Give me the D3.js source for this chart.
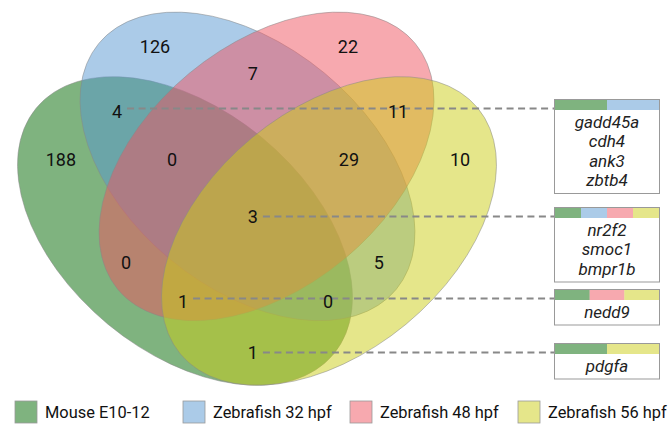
<!DOCTYPE html>
<html>
<head>
<meta charset="utf-8">
<script src="https://cdn.jsdelivr.net/npm/d3@7"></script>
<style>
  body { margin: 0; background: #fff; }
  svg { display: block; font-family: Roboto, "Noto Sans", sans-serif; }
  .count { font-size: 18px; fill: #111; }
  .gene { font-size: 17px; font-style: italic; fill: #222; }
  .legend-label { font-size: 16.4px; fill: #111; }
  .leader { stroke: #888; stroke-width: 2; stroke-dasharray: 7 4.5; fill: none; }
  .box { fill: #fff; stroke: #999; stroke-width: 1; }
</style>
</head>
<body>
<div class="container"></div>
<script>
// data
const setKeys = ["A", "B", "C", "D"];
const setNames = ["Mouse E10-12", "Zebrafish 32 hpf", "Zebrafish 48 hpf", "Zebrafish 56 hpf"];
const setColors = ["#006700", "#5797d1", "#ef535f", "#cbcd15"];

const regionKeys = ["A", "B", "C", "D", "AB", "BC", "CD", "ABC", "BCD", "ABCD", "AC", "BD", "ACD", "ABD", "AD"];
const regionCounts = [188, 126, 22, 10, 4, 7, 11, 0, 29, 3, 0, 5, 1, 0, 1];

const geneRegions = ["AB", "ABCD", "ACD", "AD"];
const geneLists = [
  ["gadd45a", "cdh4", "ank3", "zbtb4"],
  ["nr2f2", "smoc1", "bmpr1b"],
  ["nedd9"],
  ["pdgfa"]
];

// layout, in venn units (0 = axis of symmetry / vertical middle)
const ellipses = {
  A: { cx: -0.3,    cy: 0.129,  angle: 39.6 },
  B: { cx: -0.0396, cy: -0.140, angle: 39.6 },
  C: { cx: 0.0396,  cy: -0.140, angle: -39.6 },
  D: { cx: 0.3,     cy: 0.129,  angle: -39.6 }
};
const semiMajor = 0.804, semiMinor = 0.504;

const labelPos = {
  A: [-0.817, -0.167], B: [-0.425, -0.638], C: [0.379, -0.638], D: [0.846, -0.167],
  AB: [-0.583, -0.367], BC: [-0.017, -0.525], CD: [0.588, -0.367],
  ABC: [-0.354, -0.167], BCD: [0.383, -0.167], ABCD: [-0.017, 0.071],
  AC: [-0.546, 0.263], BD: [0.508, 0.263],
  ACD: [-0.308, 0.425], ABD: [0.296, 0.425], AD: [-0.017, 0.638]
};

const width = 670, height = 424;
const unit = 240;
const x = d3.scaleLinear().domain([-1, 1]).range([257 - unit, 257 + unit]);
const y = d3.scaleLinear().domain([-1, 1]).range([200 - unit, 200 + unit]);
const color = d3.scaleOrdinal().domain(setKeys).range(setColors);

const svg = d3.select(".container")
              .append("svg")
              .attr("width", width)
              .attr("height", height);

// ellipses
const venn = svg.append("g").attr("class", "venn");
venn.selectAll("ellipse")
    .data(setKeys)
    .join("ellipse")
    .attr("cx", d => x(ellipses[d].cx))
    .attr("cy", d => y(ellipses[d].cy))
    .attr("rx", semiMajor * unit)
    .attr("ry", semiMinor * unit)
    .attr("transform", d => `rotate(${ellipses[d].angle},${x(ellipses[d].cx)},${y(ellipses[d].cy)})`)
    .attr("fill", d => color(d))
    .attr("fill-opacity", 0.5)
    .attr("stroke", "#888")
    .attr("stroke-opacity", 0.6)
    .attr("stroke-width", 0.8);

// gene boxes on the right
const boxX = 554, boxW = 105, barH = 10, lineH = 19.5;
const boxTops = [99, 207, 289, 343];

const boxes = svg.append("g").attr("class", "boxes");
geneRegions.forEach((key, i) => {
  const top = boxTops[i];
  const genes = geneLists[i];
  const lp = labelPos[key];

  boxes.append("line")
       .attr("class", "leader")
       .attr("x1", x(lp[0]) + 10)
       .attr("x2", boxX)
       .attr("y1", top + barH - 0.5)
       .attr("y2", top + barH - 0.5);

  const g = boxes.append("g").attr("transform", `translate(${boxX},${top})`);
  g.append("rect")
   .attr("class", "box")
   .attr("x", 0.5)
   .attr("y", 0.5)
   .attr("width", boxW)
   .attr("height", barH + genes.length * lineH + 6);

  const members = key.split("");
  const seg = d3.scaleBand().domain(members).range([1, boxW]);
  g.selectAll(".seg")
   .data(members)
   .join("rect")
   .attr("class", "seg")
   .attr("x", d => seg(d))
   .attr("y", 1)
   .attr("width", seg.bandwidth())
   .attr("height", barH)
   .attr("fill", d => color(d))
   .attr("fill-opacity", 0.5);

  g.selectAll(".gene")
   .data(genes)
   .join("text")
   .attr("class", "gene")
   .attr("x", boxW / 2 + 0.5)
   .attr("y", (d, j) => barH + 13 + j * lineH)
   .attr("dy", "0.35em")
   .attr("text-anchor", "middle")
   .text(d => d);
});

// region counts
svg.append("g")
   .selectAll("text")
   .data(regionKeys)
   .join("text")
   .attr("class", "count")
   .attr("x", d => x(labelPos[d][0]))
   .attr("y", d => y(labelPos[d][1]))
   .attr("dy", "0.35em")
   .attr("text-anchor", "middle")
   .text((d, i) => regionCounts[i]);

// legend
const legendX = [15, 183, 350, 518];
const legend = svg.append("g")
                  .attr("transform", "translate(0,401)")
                  .selectAll("g")
                  .data(setKeys)
                  .join("g")
                  .attr("transform", (d, i) => `translate(${legendX[i]},0)`);

legend.append("rect")
      .attr("width", 22)
      .attr("height", 22)
      .attr("fill", d => color(d))
      .attr("fill-opacity", 0.5)
      .attr("stroke", "#999")
      .attr("stroke-width", 0.8);

legend.append("text")
      .attr("class", "legend-label")
      .attr("x", 30)
      .attr("y", 11)
      .attr("dy", "0.35em")
      .text((d, i) => setNames[i]);
</script>
</body>
</html>
